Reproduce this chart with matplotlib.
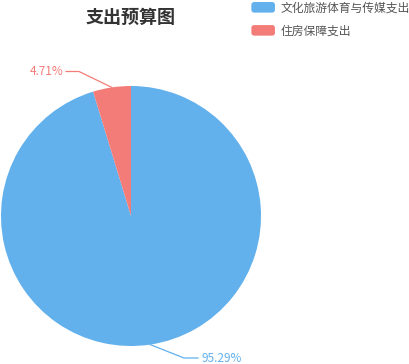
import matplotlib.pyplot as plt
import matplotlib.patches as mpatches
from matplotlib.legend_handler import HandlerPatch

plt.rcParams['font.family'] = ['Noto Sans CJK SC', 'DejaVu Sans']

# data
categories = ['文化旅游体育与传媒支出', '住房保障支出']
values = [95.29, 4.71]
colors = ['#62b0ec', '#f47c78']
pct_labels = ['95.29%', '4.71%']

fig = plt.figure(figsize=(4.09, 3.64), dpi=100)
W, H = 409, 364
cx, cy, r = 131, 216, 130
ax = fig.add_axes([(cx - r) / W, (H - cy - r) / H, 2 * r / W, 2 * r / H])

wedges, _ = ax.pie(values, colors=colors, startangle=90, counterclock=False,
                   radius=1, wedgeprops=dict(linewidth=0))
ax.set_xlim(-1, 1)
ax.set_ylim(-1, 1)
ax.axis('off')

def px(x, y):
    return ((x - cx) / r, (cy - y) / r)

# leader lines + labels (pixel positions)
label_pos = [((150, 344.5), (184, 358), (198, 358), 'left'),
             ((112, 87.5), (79, 71.5), (66, 71.5), 'right')]
for (p0, p1, p2, ha), lab, c in zip(label_pos, pct_labels, colors):
    xs, ys = zip(*[px(*p0), px(*p1), px(*p2)])
    ax.plot(xs, ys, color=c, lw=0.9, clip_on=False)
    tx, ty = px(p2[0] + (3 if ha == 'left' else -3), p2[1])
    ax.text(tx, ty, lab, color=c, fontsize=8.5, ha=ha, va='center', clip_on=False)

fig.text(131 / W, 1 - 17 / H, '支出预算图', fontsize=13, fontweight='bold',
         color='#333333', ha='center', va='center')


class RoundHandler(HandlerPatch):
    def create_artists(self, legend, orig_handle, xdescent, ydescent,
                       width, height, fontsize, trans):
        p = mpatches.FancyBboxPatch((-xdescent + 2, -ydescent + 2), width - 4, height - 4,
                                    boxstyle='round,pad=2', color=orig_handle.get_facecolor(),
                                    transform=trans, lw=0)
        return [p]


handles = [mpatches.Patch(color=c) for c in colors]
fig.legend(handles, categories, loc='upper left', bbox_to_anchor=(249 / W, 1 + 1 / H),
           frameon=False, fontsize=8.5, handlelength=2.0, handleheight=1.0,
           handletextpad=0.5, labelspacing=0.85, labelcolor='#555555',
           borderaxespad=0, borderpad=0.2,
           handler_map={mpatches.Patch: RoundHandler()})

fig.savefig('out.png', dpi=100)
